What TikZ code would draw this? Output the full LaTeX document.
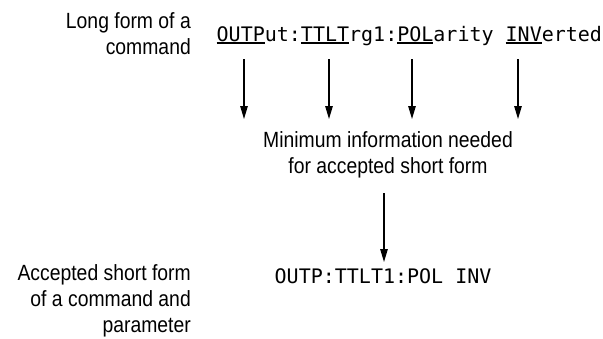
\documentclass[tikz,border=0pt]{standalone}
\usepackage{fontspec}
\usetikzlibrary{arrows.meta}
\newfontfamily\labfont[FakeStretch=0.88]{Liberation Sans}
\newfontfamily\cmdfont{DejaVu Sans Mono}
\newcommand\ulpart[1]{\setbox0\hbox{#1}\rlap{\rule[-2.6pt]{\wd0}{1.4pt}}\box0}
\begin{document}
\begin{tikzpicture}[x=1pt,y=-1pt,
  lab/.style={inner sep=0pt,font=\labfont\fontsize{22}{26}\selectfont},
  cmd/.style={inner sep=0pt,font=\cmdfont\fontsize{20}{24}\selectfont},
  arr/.style={line width=1.2pt,-{Triangle[length=13pt,width=7.5pt]}}]
\useasboundingbox (0,0) rectangle (603,338);
\node[lab,align=right,anchor=base east] (longlab) at (191,54) {Long form of a\\command};
\node[cmd,anchor=base west] (long) at (216.5,41)
  {\ulpart{OUTP}ut:\ulpart{TTLT}rg1:\ulpart{POL}arity \ulpart{INV}erted};
\node[lab,align=center,anchor=base] (mininfo) at (388,173) {Minimum information needed\\for accepted short form};
\node[lab,align=right,anchor=base east] (acclab) at (191,332) {Accepted short form\\of a command and\\parameter};
\node[cmd,anchor=base west] (short) at (274.5,283) {OUTP:TTLT1:POL INV};
\coordinate (s1) at (244,59);  \coordinate (e1) at (244,119);
\coordinate (s2) at (329,59);  \coordinate (e2) at (329,119);
\coordinate (s3) at (412,59);  \coordinate (e3) at (412,119);
\coordinate (s4) at (518,59);  \coordinate (e4) at (518,119);
\coordinate (s5) at (384,193); \coordinate (e5) at (384,262);
\draw[arr] (s1) -- (e1);
\draw[arr] (s2) -- (e2);
\draw[arr] (s3) -- (e3);
\draw[arr] (s4) -- (e4);
\draw[arr] (s5) -- (e5);
\end{tikzpicture}
\end{document}
